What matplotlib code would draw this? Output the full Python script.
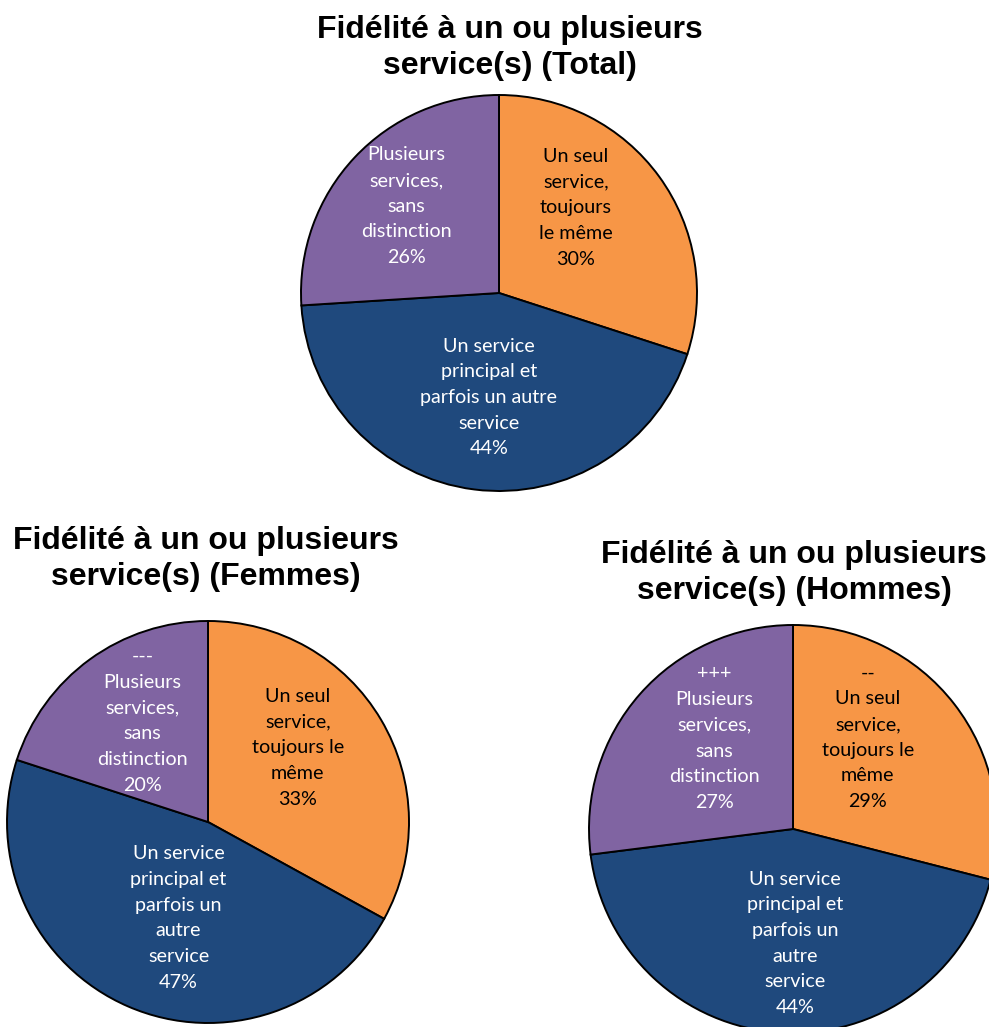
import numpy as np
import matplotlib.pyplot as plt

# Data
slices = ['Un seul service, toujours le même',
          'Un service principal et parfois un autre service',
          'Plusieurs services, sans distinction']
total = [30, 44, 26]
femmes = [33, 47, 20]
hommes = [29, 44, 27]

labels_total = ['Un seul\nservice,\ntoujours\nle même',
                'Un service\nprincipal et\nparfois un autre\nservice',
                'Plusieurs\nservices,\nsans\ndistinction']
labels_femmes = ['Un seul\nservice,\ntoujours le\nmême',
                 'Un service\nprincipal et\nparfois un\nautre\nservice',
                 '---\nPlusieurs\nservices,\nsans\ndistinction']
labels_hommes = ['--\nUn seul\nservice,\ntoujours le\nmême',
                 'Un service\nprincipal et\nparfois un\nautre\nservice',
                 '+++\nPlusieurs\nservices,\nsans\ndistinction']

titles = ['Fidélité à un ou plusieurs\nservice(s) (Total)',
          'Fidélité à un ou plusieurs\nservice(s) (Femmes)',
          'Fidélité à un ou plusieurs\nservice(s) (Hommes)']

colors = ['#F79646', '#1F497D', '#8064A2']
text_colors = ['black', 'white', 'white']

W, H = 989, 1027
fig = plt.figure(figsize=(W / 100, H / 100), dpi=100)

# layout in pixels: pie centre x, y, radius ; title centre x, y
charts = [
    (total, labels_total, titles[0], (499, 293, 198), (510, 48),
     [12, 1.7, 0], [0.58, 0.53, 0.64]),
    (femmes, labels_femmes, titles[1], (208, 822, 201), (206, 559),
     [9, 6.4, -3], [0.58, 0.50, 0.60]),
    (hommes, labels_hommes, titles[2], (793, 829, 204), (794, 573),
     [13, 4.6, -7.6], [0.58, 0.56, 0.59]),
]

m = 1.03
for values, labels, title, (cx, cy, r), (tx, ty), shifts, dists in charts:
    ax = fig.add_axes([(cx - m * r) / W, (H - cy - m * r) / H,
                       2 * m * r / W, 2 * m * r / H])
    wedges, _ = ax.pie(values, colors=colors, startangle=90, counterclock=False,
                       wedgeprops=dict(edgecolor='black', linewidth=1.4))
    ax.set_xlim(-m, m)
    ax.set_ylim(-m, m)
    ax.set_aspect('auto')
    ax.axis('off')
    for w, lab, v, tc, sh, d in zip(wedges, labels, values, text_colors, shifts, dists):
        ang = np.deg2rad((w.theta1 + w.theta2) / 2 + sh)
        ax.text(d * np.cos(ang), d * np.sin(ang), lab + '\n%d%%' % v,
                ha='center', va='center', color=tc, fontsize=14.2,
                family='Lato', linespacing=1.62)
    fig.text(tx / W, 1 - ty / H, title, ha='center', va='center',
             fontsize=23, fontweight='bold', family='Liberation Sans',
             linespacing=1.25)

fig.savefig('out.png', dpi=100)
